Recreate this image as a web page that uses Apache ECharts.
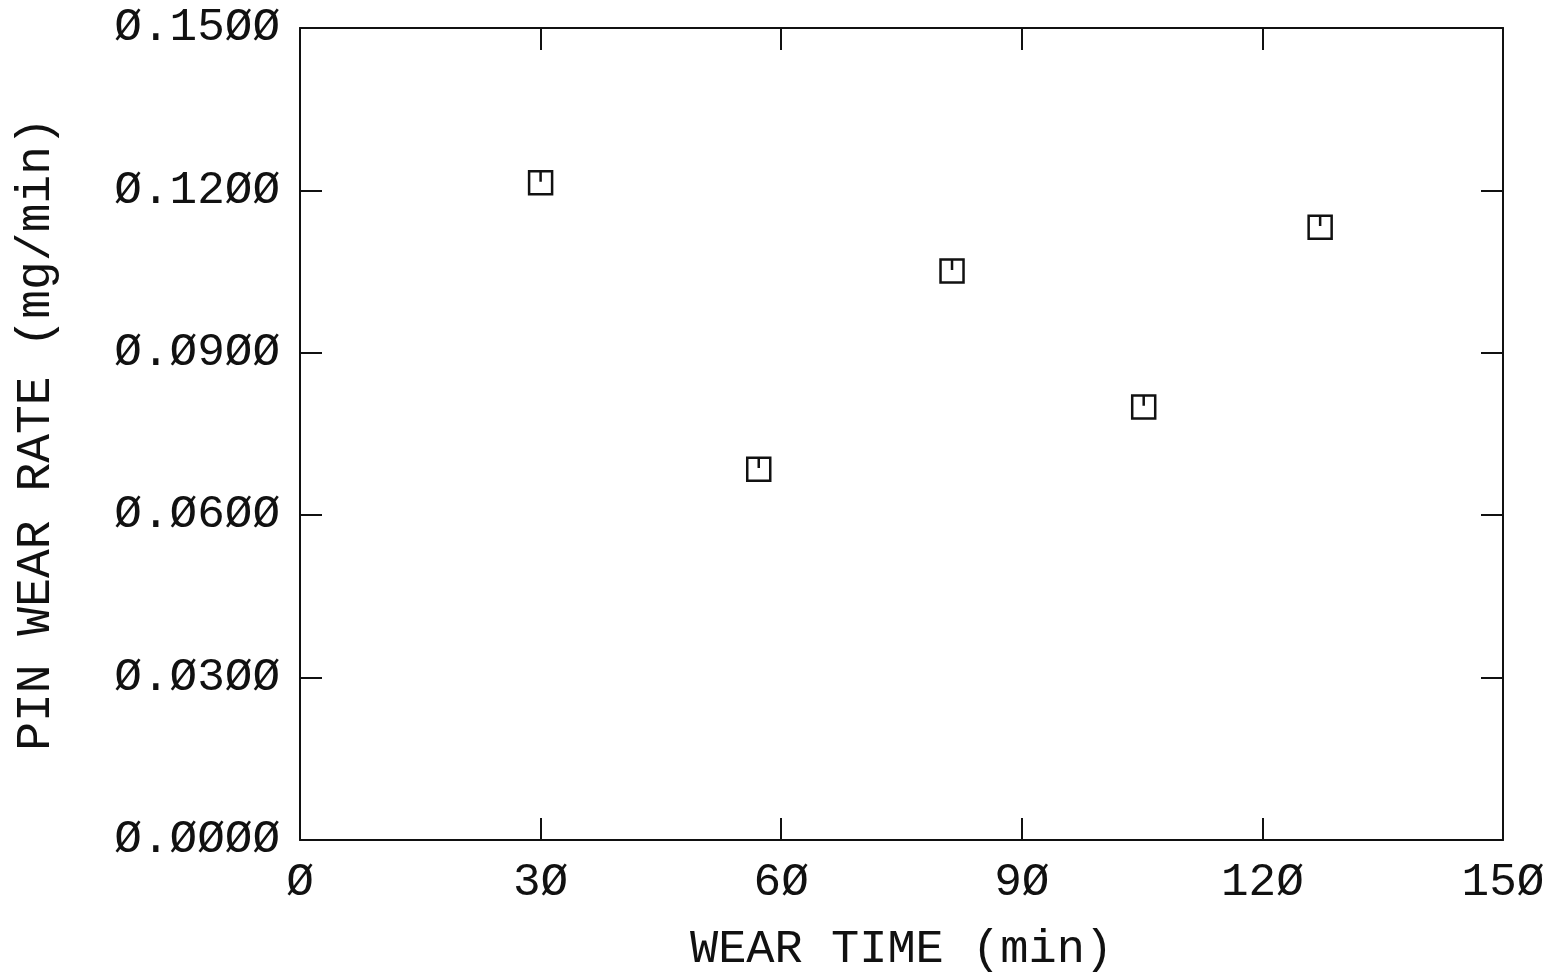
<!DOCTYPE html>
<html lang="en" style="height: 100%;">

<head>
    <meta charset="UTF-8">
    <title>Pin wear rate</title>
    <script src="https://cdn.jsdelivr.net/npm/echarts@6.0.0/dist/echarts.min.js"></script>
</head>

<body style="height: 100%; margin: 0; background: #fff;">

    <div style="width: 1545px; height: 975px;" id="wearChart"></div>

    <script>

        // wear time (min) and pin wear rate (mg/min)
        var wearTime = [30, 57.2, 81.3, 105.2, 127.2]
        var wearRate = [0.1214, 0.0685, 0.1051, 0.0800, 0.1132]

        var xTicks = [0, 30, 60, 90, 120, 150]
        var yTicks = [0, 0.03, 0.06, 0.09, 0.12, 0.15]

        var points = wearTime.map((t, i) => [t, wearRate[i]])

        // plotter style zero with a slash
        function slashZero(s) {
            return String(s).replace(/0/g, 'Ø')
        }

        var font = 'Liberation Mono'
        var ink = '#111'

        var tick = { show: true, inside: true, length: 22, lineStyle: { color: ink, width: 2 } }
        var line = { show: true, onZero: false, lineStyle: { color: ink, width: 2 } }

        let chart = echarts.init(document.getElementById("wearChart"));

        var option = {
            backgroundColor: '#fff',
            animation: false,
            grid: { left: 300, right: 42, top: 28, bottom: 135, outerBoundsMode: 'none', containLabel: false },
            xAxis: [{
                type: 'value',
                min: xTicks[0],
                max: xTicks[xTicks.length - 1],
                interval: 30,
                name: 'WEAR TIME (min)',
                nameLocation: 'middle',
                nameGap: 86,
                nameTextStyle: { fontFamily: font, fontSize: 47, color: ink },
                axisLine: line,
                axisTick: tick,
                splitLine: { show: false },
                axisLabel: {
                    margin: 20,
                    fontFamily: font, fontSize: 46, color: ink,
                    formatter: v => slashZero(v)
                }
            }, {
                type: 'value',
                position: 'top',
                min: xTicks[0],
                max: xTicks[xTicks.length - 1],
                interval: 30,
                axisLine: line,
                axisTick: tick,
                axisLabel: { show: false },
                splitLine: { show: false }
            }],
            yAxis: [{
                type: 'value',
                min: yTicks[0],
                max: yTicks[yTicks.length - 1],
                interval: 0.03,
                name: 'PIN WEAR RATE (mg/min)',
                nameLocation: 'middle',
                nameGap: 240,
                nameTextStyle: { fontFamily: font, fontSize: 48, color: ink },
                axisLine: line,
                axisTick: tick,
                splitLine: { show: false },
                axisLabel: {
                    margin: 20,
                    fontFamily: font, fontSize: 46, color: ink,
                    formatter: v => slashZero(v.toFixed(4))
                }
            }, {
                type: 'value',
                position: 'right',
                min: yTicks[0],
                max: yTicks[yTicks.length - 1],
                interval: 0.03,
                axisLine: line,
                axisTick: tick,
                axisLabel: { show: false },
                splitLine: { show: false }
            }],
            series: [{
                type: 'scatter',
                data: points,
                symbol: 'path://M0,0L10,0L10,10L0,10Z M5,0L5,4.5',
                symbolSize: 23,
                itemStyle: { color: 'transparent', borderColor: ink, borderWidth: 2.5, opacity: 1 }
            }]
        }

        chart.setOption(option)

    </script>

</body>

</html>
